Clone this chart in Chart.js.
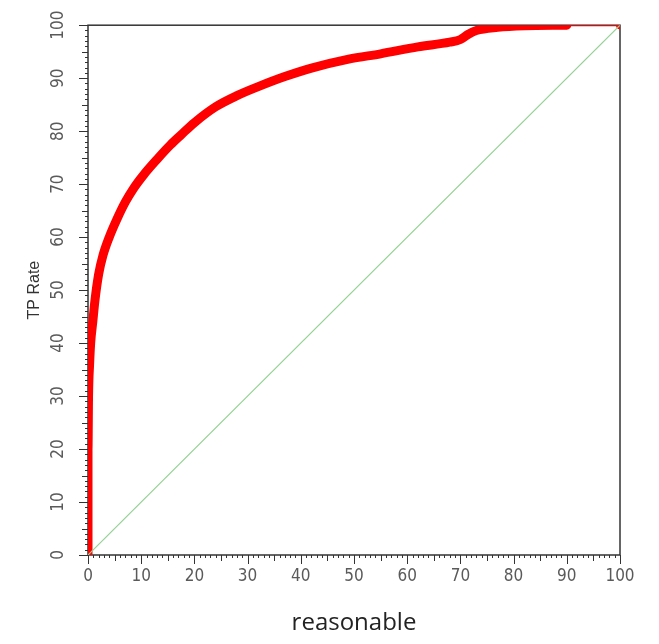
<!DOCTYPE html>
<html>
<head>
<meta charset="utf-8">
<script src="https://cdn.jsdelivr.net/npm/chart.js@4.4.0/dist/chart.umd.min.js"></script>
<style>
  html, body { margin: 0; padding: 0; background: #fff; }
  #wrap { width: 659px; height: 644px; }
</style>
</head>
<body>
<div id="wrap"><canvas id="roc"></canvas></div>
<script>
// ROC curve (FP rate %, TP rate %)
var fpRate = [0, 0, 0, 0.1, 0.3, 0.5, 0.9, 1.3, 2, 2.8, 4, 5.4, 7, 8.5, 10.5, 13, 15.5, 17.5, 20, 24, 28, 32, 37, 42, 49, 55, 62, 68, 70, 71.5, 73, 77, 82, 90];
var tpRate = [0, 10, 20, 30, 36, 40, 44, 48, 53, 56.5, 60, 63.3, 66.6, 69.1, 71.8, 74.7, 77.4, 79.3, 81.6, 84.6, 86.7, 88.4, 90.3, 91.9, 93.6, 94.6, 95.9, 96.8, 97.3, 98.3, 99, 99.6, 99.9, 100];
// last stretch of the curve is just a thin line up to the corner
var tailFp = [90, 100];
var tailTp = [100, 100];
// random guess diagonal
var diagFp = [0, 100];
var diagTp = [0, 100];
var tickValues = [0, 10, 20, 30, 40, 50, 60, 70, 80, 90, 100];

function toPoints(xs, ys) {
  var pts = [];
  for (let i = 0; i < xs.length; i++) {
    pts.push({ x: xs[i], y: ys[i] });
  }
  return pts;
}

// box round the plot + small/medium/large tick marks
var frame = {
  id: "frame",
  beforeDatasetsDraw: function (chart) {
    var a = chart.chartArea;
    var ctx = chart.ctx;
    ctx.save();
    ctx.strokeStyle = "#333";
    ctx.lineWidth = 1.5;
    ctx.strokeRect(a.left, a.top, a.right - a.left, a.bottom - a.top);
    ctx.restore();
  },
  afterDraw: function (chart) {
    var ctx = chart.ctx;
    var xs = chart.scales.x, ys = chart.scales.y;
    var a = chart.chartArea;
    ctx.save();
    ctx.strokeStyle = "#333";
    ctx.lineWidth = 1;
    for (let v = 0; v <= 100; v++) {
      var len = v % 10 == 0 ? 9 : (v % 5 == 0 ? 6 : 3);
      var px = Math.round(xs.getPixelForValue(v)) + 0.5;
      ctx.beginPath();
      ctx.moveTo(px, a.bottom);
      ctx.lineTo(px, a.bottom + len);
      ctx.stroke();
      var py = Math.round(ys.getPixelForValue(v)) + 0.5;
      ctx.beginPath();
      ctx.moveTo(a.left, py);
      ctx.lineTo(a.left - len, py);
      ctx.stroke();
    }
    ctx.restore();
  }
};

var tickFont = { family: "'Liberation Sans Narrow', 'DejaVu Sans Condensed', 'Liberation Sans', sans-serif", size: 17 };

new Chart(document.getElementById("roc"), {
  type: "line",
  data: {
    datasets: [
      {
        data: toPoints(diagFp, diagTp),
        borderColor: "#93d193",
        borderWidth: 1.2,
        pointRadius: 0
      },
      {
        data: toPoints(tailFp, tailTp),
        borderColor: "#ff0000",
        borderWidth: 2,
        pointRadius: [0, 4],
        pointBackgroundColor: "#ff0000",
        pointBorderWidth: 0
      },
      {
        data: toPoints(fpRate, tpRate),
        borderColor: "#ff0000",
        borderWidth: 9,
        borderCapStyle: "round",
        borderJoinStyle: "round",
        cubicInterpolationMode: "monotone",
        pointRadius: 0
      }
    ]
  },
  plugins: [frame],
  options: {
    responsive: true,
    maintainAspectRatio: false,
    animation: false,
    events: [],
    layout: { padding: { left: 0, right: 39, top: 22, bottom: 0 } },
    plugins: { legend: { display: false }, tooltip: { enabled: false } },
    scales: {
      x: {
        type: "linear",
        min: 0, max: 100,
        afterFit: function (s) { s.height = 89; },
        afterBuildTicks: function (s) { s.ticks = tickValues.map(v => ({ value: v })); },
        grid: { display: false, drawTicks: false },
        border: { display: false },
        ticks: { color: "#5a5a5a", font: tickFont, padding: 11, maxRotation: 0, autoSkip: false },
        title: {
          display: true,
          text: "reasonable",
          color: "#222",
          font: { family: "'Open Sans', 'Noto Sans', sans-serif", size: 24 },
          padding: { top: 0, bottom: 6 }
        }
      },
      y: {
        type: "linear",
        min: 0, max: 100,
        afterFit: function (s) { s.width = 88; },
        afterBuildTicks: function (s) { s.ticks = tickValues.map(v => ({ value: v })); },
        grid: { display: false, drawTicks: false },
        border: { display: false },
        ticks: { color: "#5a5a5a", font: tickFont, padding: 15, minRotation: 90, maxRotation: 90, crossAlign: "center", autoSkip: false },
        title: {
          display: true,
          text: "TP Rate",
          color: "#333",
          font: { family: "'Liberation Sans', Arial, sans-serif", size: 16 },
          padding: { top: 25, bottom: 0 }
        }
      }
    }
  }
});
</script>
</body>
</html>
